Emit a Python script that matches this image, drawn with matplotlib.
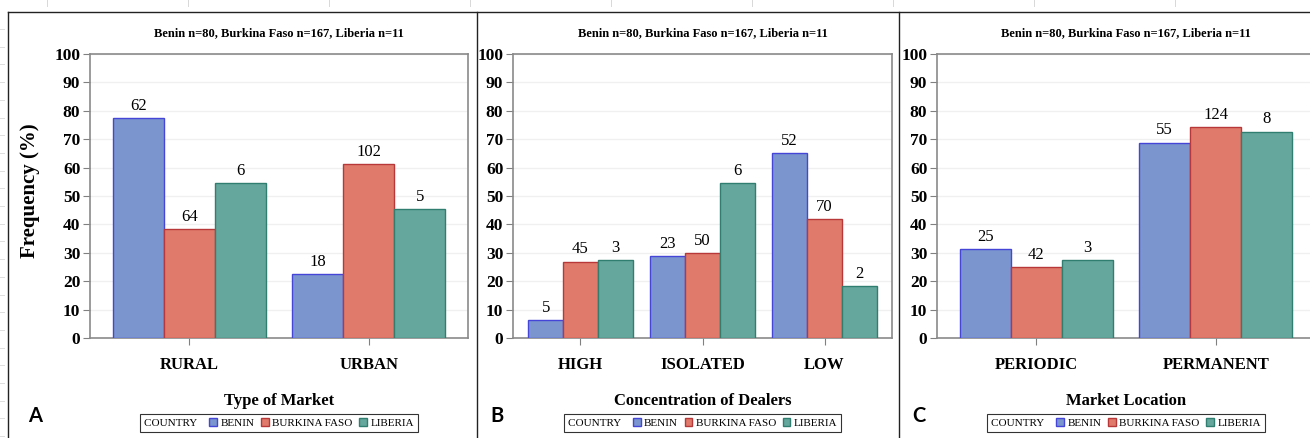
import numpy as np
import matplotlib.pyplot as plt
from matplotlib.patches import Patch
from matplotlib.lines import Line2D

# data: percentages (bar heights) and counts (bar labels)
countries = ['BENIN', 'BURKINA FASO', 'LIBERIA']
subtitle = 'Benin n=80, Burkina Faso n=167, Liberia n=11'

cats_a = ['RURAL', 'URBAN']
benin_a = [77.5, 22.5]
burkina_a = [38.3, 61.1]
liberia_a = [54.5, 45.5]
benin_a_n = [62, 18]
burkina_a_n = [64, 102]
liberia_a_n = [6, 5]

cats_b = ['HIGH', 'ISOLATED', 'LOW']
benin_b = [6.3, 28.8, 65.0]
burkina_b = [26.9, 29.9, 41.9]
liberia_b = [27.3, 54.5, 18.2]
benin_b_n = [5, 23, 52]
burkina_b_n = [45, 50, 70]
liberia_b_n = [3, 6, 2]

cats_c = ['PERIODIC', 'PERMANENT']
benin_c = [31.3, 68.8]
burkina_c = [25.1, 74.3]
liberia_c = [27.3, 72.7]
benin_c_n = [25, 55]
burkina_c_n = [42, 124]
liberia_c_n = [3, 8]

fills = ['#7B95CF', '#E07B6C', '#66A79D']
edges = ['#4545D8', '#B8383A', '#2F7E70']

plt.rcParams['font.family'] = ['Liberation Serif', 'DejaVu Serif']

W, H = 1310, 438
fig = plt.figure(figsize=(W / 100, H / 100), dpi=100)

def px(x0, x1):
    return x0 / W, (x1 - x0) / W

top, bot = 54, 338
ay = 1 - bot / H
ah = (bot - top) / H

def panel(left, right, cats, series, counts, xlabel, letter, lx, ylab=False):
    l, w = px(left, right)
    ax = fig.add_axes([l, ay, w, ah])
    x = np.arange(len(cats))
    bw = 0.285
    for i in range(3):
        bars = ax.bar(x + (i - 1) * bw, series[i], bw, color=fills[i],
                      edgecolor=edges[i], linewidth=1.0, zorder=3)
        ax.bar_label(bars, labels=[str(v) for v in counts[i]], padding=3,
                     fontsize=12, zorder=4)
    ax.set_xlim(-0.553, len(cats) - 1 + 0.553)
    ax.set_ylim(0, 100)
    ax.set_yticks(range(0, 101, 10))
    ax.set_xticks(x)
    ax.set_xticklabels(cats, fontsize=12, fontweight='bold')
    for t in ax.get_yticklabels():
        t.set_fontweight('bold')
        t.set_fontsize(12.5)
    ax.tick_params(axis='x', length=5, pad=9, color='#808080')
    ax.tick_params(axis='y', length=5, pad=2, color='#808080')
    for s in ax.spines.values():
        s.set_color('#8a8a8a')
        s.set_linewidth(1.2)
    ax.grid(axis='y', color='#f0f0f0', linewidth=1, zorder=0)
    ax.set_xlabel(xlabel, fontsize=12, fontweight='bold', labelpad=14)
    ax.set_title(subtitle, fontsize=9, fontweight='bold', pad=13)
    if ylab:
        ax.set_ylabel('Frequency (%)', fontsize=15, fontweight='bold')
        ax.yaxis.set_label_coords(-0.133, 0.52)
    handles = [Patch(alpha=0)] + [Patch(facecolor=fills[i], edgecolor=edges[i]) for i in range(3)]
    labels = ['COUNTRY  '] + countries
    leg = ax.legend(handles, labels, ncol=4, loc='upper center',
                    bbox_to_anchor=(0.5, -0.268), fontsize=8, frameon=True,
                    fancybox=False, edgecolor='black', handlelength=0.7,
                    handleheight=0.7, handletextpad=0.3, columnspacing=0.6,
                    borderpad=0.35, borderaxespad=0)
    leg.get_frame().set_linewidth(0.8)
    # drop the empty marker in front of "COUNTRY"
    first = leg._legend_handle_box.get_children()[0].get_children()[0]
    first._children = first._children[1:]
    fig.text(lx / W, 1 - 416 / H, letter, family='Lato', fontweight='bold',
             fontsize=14.5, ha='center', va='center')
    return ax

panel(90, 468, cats_a, [benin_a, burkina_a, liberia_a],
      [benin_a_n, burkina_a_n, liberia_a_n], 'Type of Market', 'A', 35, ylab=True)
panel(513, 892, cats_b, [benin_b, burkina_b, liberia_b],
      [benin_b_n, burkina_b_n, liberia_b_n], 'Concentration of Dealers', 'B', 497)
panel(937, 1315, cats_c, [benin_c, burkina_c, liberia_c],
      [benin_c_n, burkina_c_n, liberia_c_n], 'Market Location', 'C', 919)

# page frame and separators
def fline(xs, ys, **kw):
    fig.add_artist(Line2D([v / W for v in xs], [1 - v / H for v in ys], **kw))

fline([8, W], [12, 12], color='#222222', lw=1)
for xv in [8, 477, 899]:
    fline([xv, xv], [12, H], color='#222222', lw=1)

# faint ruler marks
for xv in range(47, W, 141):
    fline([xv, xv], [0, 6], color='#d8d8d8', lw=0.7)
for yv in np.arange(29, H, 17.7):
    fline([0, 4], [yv, yv], color='#dddddd', lw=0.7)

fig.savefig('out.png', dpi=100)
